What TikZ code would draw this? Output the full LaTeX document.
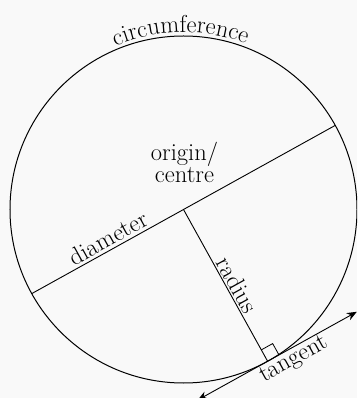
\documentclass[tikz,border=0pt]{standalone}
\usepackage{tikz}
\usetikzlibrary{calc,arrows.meta,decorations.text}
\definecolor{bggray}{RGB}{249,249,249}

\begin{document}
\begin{tikzpicture}[x=1pt, y=1pt,
    outline/.style={draw=black, line width=1pt},
    lbl/.style={font=\fontsize{24.5}{17}\selectfont, inner sep=2.5pt},
    tanarrow/.style={{Stealth[length=10pt,width=8pt]}-{Stealth[length=10pt,width=8pt]}, line width=0.9pt}
  ]
    % Frame
    \fill[bggray] (-183.5,-188.5) rectangle (173.5,209.5);
    \useasboundingbox (-183.5,-188.5) rectangle (173.5,209.5);
    \clip (-183.5,-188.5) rectangle (173.5,209.5);

    % Points on the circle
    \coordinate (O) at (0,0);
    \coordinate (diamL) at (209:173.5);
    \coordinate (diamR) at (29:173.5);
    \coordinate (T) at (-61:173.5);
    \coordinate (tanA) at ($(T)+(209:80)$);
    \coordinate (tanB) at ($(T)+(29:102)$);

    % Circle
    \draw[outline] (O) circle[radius=173.5];
    \path[decorate, decoration={text along path, text align=center,
        text={|\fontsize{24.5}{24.5}\selectfont|circumference}}]
      (136:177) arc[start angle=136, end angle=46, radius=177];

    % Diameter and radius
    \draw[outline, line width=0.9pt] (diamL) -- node[lbl, sloped, above, pos=0.27] (lblDiam) {diameter} (diamR);
    \draw[outline, line width=0.9pt] (O) -- node[lbl, sloped, above, pos=0.53, inner sep=1.5pt] (lblRad) {radius} (T);
    \node[lbl, align=center, anchor=south, inner sep=0pt] (lblOrigin) at (1,26.5) {origin/\\centre};

    % Tangent with right angle mark
    \coordinate (sqA) at ($(T)!13pt!(O)$);
    \coordinate (sqB) at ($(T)+(29:13)$);
    \draw[line width=0.8pt] (sqA) -- ($(sqA)+(29:13)$) -- (sqB);
    \draw[tanarrow] (tanA) -- node[lbl, sloped, below, pos=0.57, inner sep=1.5pt] (lblTan) {tangent} (tanB);
  \end{tikzpicture}
\end{document}
